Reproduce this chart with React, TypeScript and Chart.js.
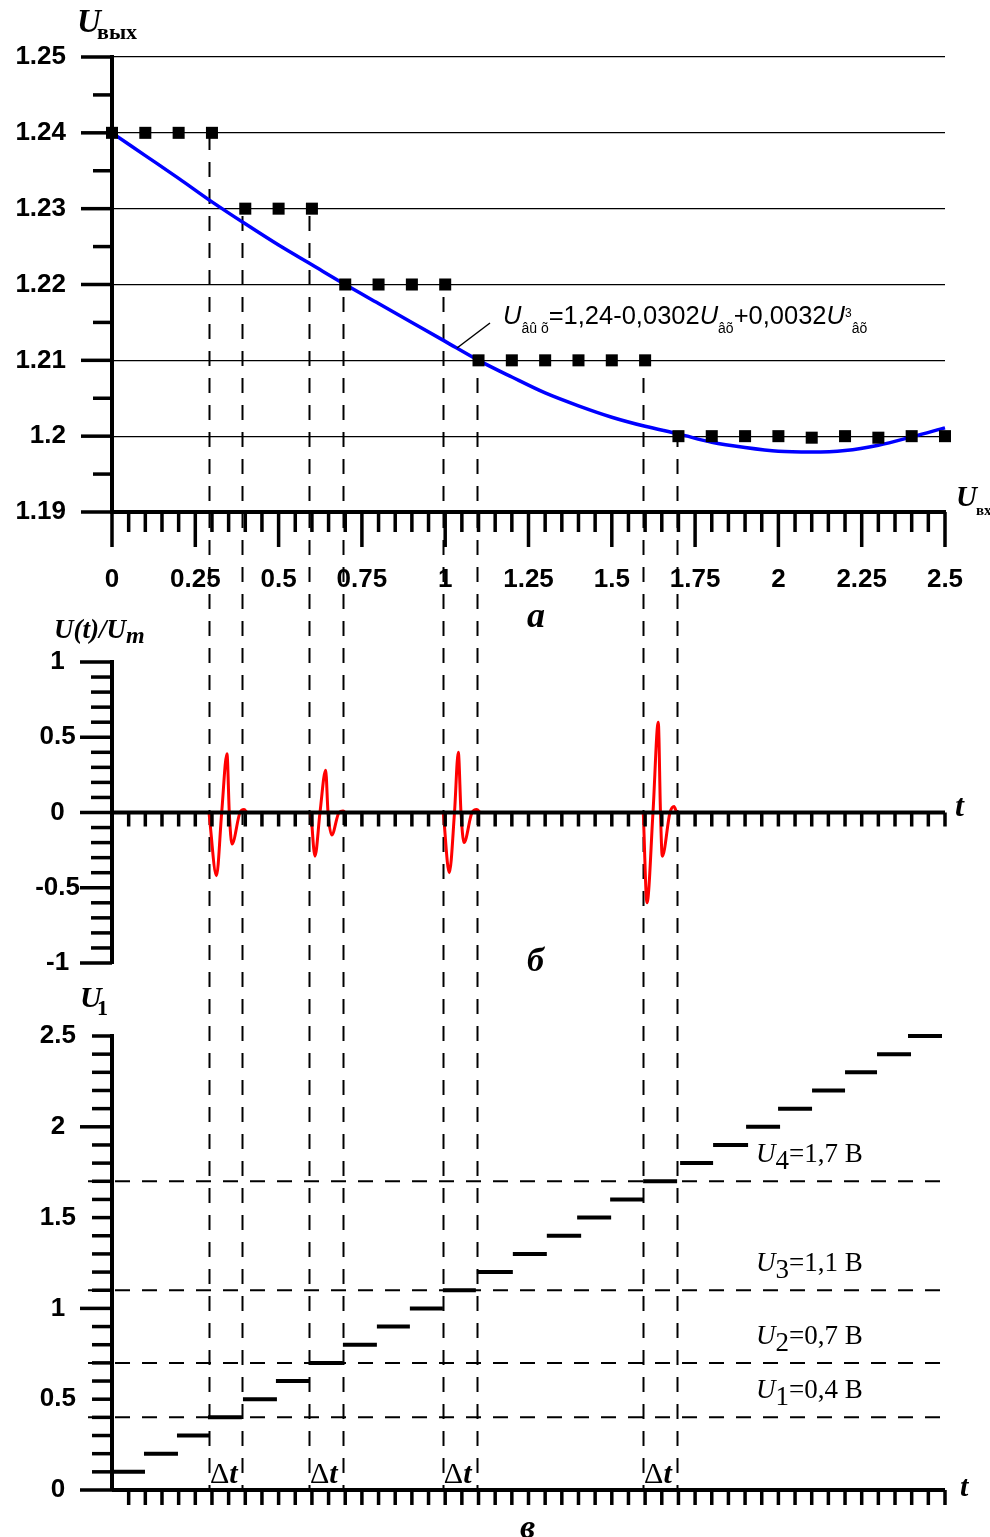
import React, { useEffect, useRef } from "react";
import { Chart, registerables } from "chart.js";

Chart.register(...registerables);

const SANS = "'Liberation Sans', Arial, Helvetica, sans-serif";
const SERIF = "'Liberation Serif', 'Times New Roman', Times, serif";
const BLACK = "#000000";

// ---------- panel a : U_вых (U_вх) ----------
const inputU = [0, 0.1, 0.2, 0.3, 0.4, 0.5, 0.6, 0.7, 0.8, 0.9, 1.0, 1.1, 1.2, 1.3, 1.4, 1.5, 1.6, 1.7, 1.8, 1.9, 2.0, 2.1, 2.2, 2.3, 2.4, 2.5];
const outputU = [1.24, 1.24, 1.24, 1.24, 1.23, 1.23, 1.23, 1.22, 1.22, 1.22, 1.22, 1.21, 1.21, 1.21, 1.21, 1.21, 1.21, 1.2, 1.2, 1.2, 1.2, 1.1998, 1.2, 1.1998, 1.2, 1.2];
const fitU = [1.24, 1.237, 1.234, 1.2309, 1.228, 1.2252, 1.2226, 1.22, 1.2175, 1.215, 1.2125, 1.21, 1.2078, 1.2057, 1.204, 1.2025, 1.2013, 1.2003, 1.1992, 1.1985, 1.198, 1.1979, 1.1981, 1.1988, 1.1999, 1.2011];

// switching moments (dashed verticals) and the level where each one starts in panel a
const switchU = [0.291, 0.391, 0.591, 0.693, 0.993, 1.095, 1.594, 1.696];
const switchLevel = [1.24, 1.23, 1.23, 1.22, 1.22, 1.21, 1.21, 1.2];

// ---------- panel б : U(t)/Um pulses ----------
const pulse1T = [0.291, 0.3136, 0.3292, 0.3451, 0.352, 0.3601, 0.3841, 0.3962, 0.4052];
const pulse1V = [0, -0.42, 0, 0.39, 0, -0.21, 0, 0.02, 0];
const pulse2T = [0.5972, 0.6092, 0.6242, 0.6413, 0.6483, 0.6594, 0.6813, 0.6933, 0.6993];
const pulse2V = [0, -0.29, 0, 0.28, 0, -0.15, 0, 0.01, 0];
const pulse3T = [0.9943, 1.0123, 1.0279, 1.0393, 1.0474, 1.0564, 1.0804, 1.0945, 1.1044];
const pulse3V = [0, -0.4, 0, 0.4, 0, -0.2, 0, 0.02, 0];
const pulse4T = [1.5945, 1.6056, 1.6236, 1.6395, 1.6461, 1.6515, 1.6747, 1.6867, 1.6942];
const pulse4V = [0, -0.6, 0, 0.6, 0, -0.29, 0, 0.04, 0];

// ---------- panel в : staircase U1(t) ----------
const stepLevel = [0.1, 0.2, 0.3, 0.4, 0.5, 0.6, 0.7, 0.8, 0.9, 1.0, 1.1, 1.2, 1.3, 1.4, 1.5, 1.6, 1.7, 1.8, 1.9, 2.0, 2.1, 2.2, 2.3, 2.4, 2.5];
const stepStart = [0, 0.096, 0.195, 0.288, 0.393, 0.492, 0.594, 0.693, 0.795, 0.894, 0.993, 1.095, 1.203, 1.305, 1.396, 1.495, 1.594, 1.705, 1.804, 1.903, 1.999, 2.101, 2.2, 2.296, 2.389];
const stepEnd = [0.099, 0.198, 0.294, 0.39, 0.495, 0.594, 0.693, 0.795, 0.894, 0.993, 1.092, 1.203, 1.305, 1.408, 1.498, 1.594, 1.696, 1.804, 1.909, 2.005, 2.101, 2.2, 2.296, 2.398, 2.491];
const thresholdU = [0.4, 0.7, 1.1, 1.7];
const thresholdText = ["0,4", "0,7", "1,1", "1,7"];
const thresholdFrom = -0.072;
const thresholdTo = 2.51;

const fmt = (v: any) => String(Math.round(Number(v) * 1000) / 1000);

type Run = { t: string; f: string; dy?: number };
function drawRuns(ctx: CanvasRenderingContext2D, x: number, y: number, runs: Run[]) {
  ctx.save();
  ctx.fillStyle = BLACK;
  ctx.textAlign = "left";
  ctx.textBaseline = "alphabetic";
  let cx = x;
  for (const r of runs) {
    ctx.font = r.f;
    ctx.fillText(r.t, cx, y + (r.dy || 0));
    cx += ctx.measureText(r.t).width;
  }
  ctx.restore();
}

function dashedVertical(ctx: CanvasRenderingContext2D, x: number, y1: number, y2: number, canvasTop: number) {
  ctx.save();
  ctx.strokeStyle = BLACK;
  ctx.lineWidth = 2;
  ctx.setLineDash([15, 12]);
  ctx.lineDashOffset = (canvasTop + y1) % 27;
  ctx.beginPath();
  ctx.moveTo(Math.round(x) + 0.5, y1);
  ctx.lineTo(Math.round(x) + 0.5, y2);
  ctx.stroke();
  ctx.restore();
}

function yTicks(chart: any, values: number[], lens: number[]) {
  const ctx = chart.ctx as CanvasRenderingContext2D;
  const y = chart.scales.y;
  const left = chart.chartArea.left;
  ctx.save();
  ctx.fillStyle = BLACK;
  values.forEach((v, i) => {
    const py = y.getPixelForValue(v);
    ctx.fillRect(left - lens[i], py - 1.75, lens[i], 3.5);
  });
  ctx.restore();
}

function xTicks(chart: any, yPix: number, values: number[], lens: number[]) {
  const ctx = chart.ctx as CanvasRenderingContext2D;
  const x = chart.scales.x;
  ctx.save();
  ctx.fillStyle = BLACK;
  values.forEach((v, i) => {
    const px = x.getPixelForValue(v);
    ctx.fillRect(px - 1.75, yPix, 3.5, lens[i]);
  });
  ctx.restore();
}

const noPad = (s: any) => {
  s.paddingLeft = 0;
  s.paddingRight = 0;
  s.paddingTop = 0;
  s.paddingBottom = 0;
};

const commonOptions = (padding: any) => ({
  responsive: false,
  maintainAspectRatio: false,
  animation: false,
  devicePixelRatio: 1,
  events: [],
  layout: { padding },
  plugins: { legend: { display: false }, tooltip: { enabled: false }, title: { display: false } },
});

const tickFont = { family: SANS, size: 26, weight: "bold" as const };

// ================= panel a =================
const TOP_A = 0;
const H_A = 600;
const pluginA = {
  id: "panelA",
  beforeDatasetsDraw(chart: any) {
    const { ctx, scales } = chart;
    switchU.forEach((u, i) => {
      dashedVertical(ctx, scales.x.getPixelForValue(u), scales.y.getPixelForValue(switchLevel[i]), chart.height, TOP_A);
    });
  },
  afterDraw(chart: any) {
    const { ctx, chartArea } = chart;
    const yv: number[] = [], yl: number[] = [];
    for (let i = 0; i <= 12; i++) { yv.push(1.19 + i * 0.005); yl.push(i % 2 === 0 ? 31 : 19); }
    yTicks(chart, yv, yl);
    const xv: number[] = [], xl: number[] = [];
    for (let i = 0; i <= 50; i++) { xv.push(i * 0.05); xl.push(i % 5 === 0 ? 35 : 20); }
    xTicks(chart, chartArea.bottom, xv, xl);
    // axis titles
    drawRuns(ctx, 77, 32, [{ t: "U", f: `bold italic 33px ${SERIF}` }]);
    drawRuns(ctx, 97, 39, [{ t: "вых", f: `bold 22px ${SERIF}` }]);
    drawRuns(ctx, 956, 506, [{ t: "U", f: `bold italic 29px ${SERIF}` }]);
    drawRuns(ctx, 976, 515, [{ t: "вх", f: `bold 15px ${SERIF}` }]);
    // regression formula
    const big = `25.5px ${SANS}`;
    const bigI = `italic 25.5px ${SANS}`;
    const sub = `14px ${SANS}`;
    drawRuns(ctx, 503, 324, [
      { t: "U", f: bigI },
      { t: "âû õ", f: sub, dy: 9 },
      { t: "=1,24-0,0302", f: big },
      { t: "U", f: bigI },
      { t: "âõ", f: sub, dy: 9 },
      { t: "+0,0032", f: big },
      { t: "U", f: bigI },
      { t: "3", f: `12px ${SANS}`, dy: -7 },
      { t: "âõ", f: sub, dy: 9 },
    ]);
    ctx.save();
    ctx.strokeStyle = BLACK;
    ctx.lineWidth = 1.5;
    ctx.beginPath();
    ctx.moveTo(457, 348);
    ctx.lineTo(490, 323);
    ctx.stroke();
    ctx.restore();
  },
};

const configA = () => ({
  type: "scatter",
  data: {
    datasets: [
      {
        data: inputU.map((x, i) => ({ x, y: outputU[i] })),
        showLine: false,
        pointStyle: "rect",
        pointRadius: 8.5,
        pointBackgroundColor: BLACK,
        pointBorderWidth: 0,
        clip: false,
      },
      {
        data: inputU.map((x, i) => ({ x, y: fitU[i] })),
        showLine: true,
        borderColor: "#0000ff",
        borderWidth: 3.5,
        pointRadius: 0,
        cubicInterpolationMode: "monotone",
        clip: false,
      },
    ],
  },
  options: {
    ...commonOptions({ top: 57, right: 45, left: 0, bottom: 0 }),
    scales: {
      x: {
        type: "linear",
        position: "bottom",
        min: 0,
        max: 2.5,
        afterFit: (s: any) => { s.height = H_A - 512; noPad(s); },
        ticks: { stepSize: 0.25, padding: 52, color: BLACK, font: tickFont, callback: fmt, autoSkip: false, maxRotation: 0 },
        grid: { display: false, drawTicks: false },
        border: { display: true, color: BLACK, width: 4 },
      },
      y: {
        type: "linear",
        min: 1.19,
        max: 1.25,
        afterFit: (s: any) => { s.width = 112; noPad(s); },
        ticks: { stepSize: 0.01, padding: 46, color: BLACK, font: tickFont, callback: fmt },
        grid: { display: true, drawTicks: false, color: BLACK, lineWidth: 1.3 },
        border: { display: true, color: BLACK, width: 4 },
      },
    },
  },
  plugins: [pluginA],
});

// ================= panel б =================
const TOP_B = 600;
const H_B = 385;
const pluginB = {
  id: "panelB",
  beforeDatasetsDraw(chart: any) {
    const { ctx, scales } = chart;
    switchU.forEach((u) => dashedVertical(ctx, scales.x.getPixelForValue(u), 0, chart.height, TOP_B));
  },
  afterDraw(chart: any) {
    const { ctx, chartArea, scales } = chart;
    const y0 = scales.y.getPixelForValue(0);
    ctx.save();
    ctx.fillStyle = BLACK;
    ctx.fillRect(chartArea.left, y0 - 2, chartArea.right - chartArea.left, 4);
    ctx.restore();
    const yv: number[] = [], yl: number[] = [];
    for (let i = 0; i <= 20; i++) { yv.push(-1 + i * 0.1); yl.push(i % 5 === 0 ? 32 : 21); }
    yTicks(chart, yv, yl);
    const xv: number[] = [], xl: number[] = [];
    for (let i = 1; i <= 50; i++) { xv.push(i * 0.05); xl.push(14); }
    xTicks(chart, y0, xv, xl);
    drawRuns(ctx, 527, 27, [{ t: "a", f: `bold italic 36px ${SERIF}` }]);
    drawRuns(ctx, 54, 38, [
      { t: "U(t)/U", f: `bold italic 27px ${SERIF}` },
      { t: "m", f: `bold italic 24px ${SERIF}`, dy: 5 },
    ]);
    drawRuns(ctx, 955, 216, [{ t: "t", f: `bold italic 32px ${SERIF}` }]);
    drawRuns(ctx, 527, 371, [{ t: "б", f: `bold italic 34px ${SERIF}` }]);
  },
};

const pulseSet = (t: number[], v: number[]) => ({
  data: t.map((x, i) => ({ x, y: v[i] })),
  showLine: true,
  borderColor: "#ff0000",
  borderWidth: 3,
  pointRadius: 0,
  cubicInterpolationMode: "monotone",
  borderJoinStyle: "round",
  clip: false,
});

const configB = () => ({
  type: "scatter",
  data: {
    datasets: [pulseSet(pulse1T, pulse1V), pulseSet(pulse2T, pulse2V), pulseSet(pulse3T, pulse3V), pulseSet(pulse4T, pulse4V)],
  },
  options: {
    ...commonOptions({ top: 62, right: 45, left: 0, bottom: 22 }),
    scales: {
      x: { type: "linear", min: 0, max: 2.5, display: false },
      y: {
        type: "linear",
        min: -1,
        max: 1,
        afterFit: (s: any) => { s.width = 112; noPad(s); },
        ticks: { stepSize: 0.5, padding: 32, crossAlign: "center", color: BLACK, font: tickFont, callback: fmt },
        grid: { display: false, drawTicks: false },
        border: { display: true, color: BLACK, width: 4 },
      },
    },
  },
  plugins: [pluginB],
});

// ================= panel в =================
const TOP_C = 985;
const H_C = 552;
const pluginC = {
  id: "panelC",
  beforeDatasetsDraw(chart: any) {
    const { ctx, scales, chartArea } = chart;
    switchU.forEach((u) => dashedVertical(ctx, scales.x.getPixelForValue(u), 0, chartArea.bottom, TOP_C));
  },
  afterDraw(chart: any) {
    const { ctx, chartArea, scales } = chart;
    ctx.save();
    ctx.fillStyle = BLACK;
    ctx.fillRect(chartArea.left, chartArea.bottom - 2, chartArea.right - chartArea.left, 4);
    ctx.restore();
    const yv: number[] = [], yl: number[] = [];
    for (let i = 0; i <= 25; i++) { yv.push(i * 0.1); yl.push(i % 10 === 0 ? 32 : 20); }
    yTicks(chart, yv, yl);
    const xv: number[] = [], xl: number[] = [];
    for (let i = 1; i <= 50; i++) { xv.push(i * 0.05); xl.push(15); }
    xTicks(chart, chartArea.bottom, xv, xl);
    // threshold labels
    thresholdU.forEach((u, k) => {
      const py = scales.y.getPixelForValue(u);
      drawRuns(ctx, 756, py - 19, [
        { t: "U", f: `italic 27px ${SERIF}` },
        { t: String(k + 1), f: `27px ${SERIF}`, dy: 7 },
        { t: "=" + thresholdText[k] + " В", f: `27px ${SERIF}` },
      ]);
    });
    // Δt labels
    [0, 2, 4, 6].forEach((i) => {
      const px = scales.x.getPixelForValue(switchU[i]);
      drawRuns(ctx, px + 1, 498, [
        { t: "Δ", f: `30px ${SERIF}` },
        { t: "t", f: `bold italic 30px ${SERIF}` },
      ]);
    });
    drawRuns(ctx, 80, 22, [{ t: "U", f: `bold italic 30px ${SERIF}` }]);
    drawRuns(ctx, 97, 30, [{ t: "1", f: `bold 22px ${SERIF}` }]);
    drawRuns(ctx, 960, 511, [{ t: "t", f: `bold italic 30px ${SERIF}` }]);
    drawRuns(ctx, 520, 553, [{ t: "в", f: `bold italic 34px ${SERIF}` }]);
  },
};

const stepData: any[] = [];
stepLevel.forEach((lv, i) => {
  stepData.push({ x: stepStart[i], y: lv });
  stepData.push({ x: stepEnd[i], y: lv });
  stepData.push({ x: stepEnd[i], y: null });
});

const configC = () => ({
  type: "scatter",
  data: {
    datasets: [
      {
        data: stepData,
        showLine: true,
        spanGaps: false,
        borderColor: BLACK,
        borderWidth: 4,
        borderCapStyle: "butt",
        pointRadius: 0,
        clip: false,
      },
      ...thresholdU.map((u) => ({
        data: [{ x: thresholdFrom, y: u }, { x: thresholdTo, y: u }],
        showLine: true,
        borderColor: BLACK,
        borderWidth: 2,
        borderDash: [15, 12],
        pointRadius: 0,
        clip: false,
      })),
    ],
  },
  options: {
    ...commonOptions({ top: 51, right: 45, left: 0, bottom: 47 }),
    scales: {
      x: { type: "linear", min: 0, max: 2.5, display: false },
      y: {
        type: "linear",
        min: 0,
        max: 2.5,
        afterFit: (s: any) => { s.width = 112; noPad(s); },
        ticks: { stepSize: 0.5, padding: 36, crossAlign: "center", color: BLACK, font: tickFont, callback: fmt },
        grid: { display: false, drawTicks: false },
        border: { display: true, color: BLACK, width: 4 },
      },
    },
  },
  plugins: [pluginC],
});

function Panel({ top, height, makeConfig }: { top: number; height: number; makeConfig: () => any }) {
  const ref = useRef<HTMLCanvasElement | null>(null);
  useEffect(() => {
    if (!ref.current) return;
    const chart = new Chart(ref.current, makeConfig());
    return () => chart.destroy();
  }, [makeConfig]);
  return (
    <canvas
      ref={ref}
      width={990}
      height={height}
      style={{ position: "absolute", left: 0, top, width: 990, height, display: "block" }}
    />
  );
}

export default function App() {
  return (
    <div style={{ position: "absolute", left: 0, top: 0, width: 990, height: 1537, background: "#ffffff", overflow: "hidden" }}>
      <Panel top={TOP_A} height={H_A} makeConfig={configA} />
      <Panel top={TOP_B} height={H_B} makeConfig={configB} />
      <Panel top={TOP_C} height={H_C} makeConfig={configC} />
    </div>
  );
}
